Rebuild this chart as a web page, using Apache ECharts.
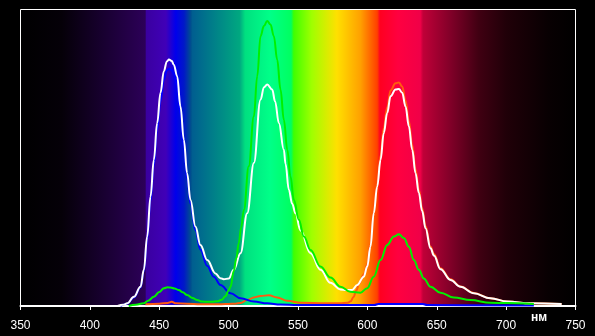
<!DOCTYPE html>
<html>
<head>
<meta charset="utf-8">
<script src="https://cdn.jsdelivr.net/npm/echarts@6/dist/echarts.min.js"></script>
<style>
html,body{margin:0;padding:0;background:#000;}
#chart{width:595px;height:336px;}
</style>
</head>
<body>
<div id="chart"></div>
<script>
// Wavelength axis ticks (nm)
const xTicks = [350, 400, 450, 500, 550, 600, 650, 700, 750];
const unitLabel = 'нм';

// Curves: [wavelength nm, relative intensity]
const whiteCurve = [[420,0.0],[424,0.004],[427,0.009],[431.7,0.031],[436.5,0.065],[438.9,0.122],[441.3,0.234],[443.7,0.369],[446.1,0.493],[448.5,0.617],[450.9,0.719],[453.3,0.792],[455.5,0.825],[457,0.831],[459,0.826],[460.5,0.814],[462.9,0.775],[465.3,0.673],[467.7,0.561],[470.1,0.448],[472.5,0.358],[476.1,0.268],[479.7,0.206],[484.6,0.155],[490.5,0.110],[494,0.094],[496.5,0.090],[500.1,0.093],[503.7,0.122],[508.6,0.178],[513.4,0.313],[518.2,0.482],[523,0.696],[525.5,0.738],[527.8,0.747],[531.4,0.730],[533.5,0.690],[536.2,0.617],[539.8,0.527],[541,0.480],[543.4,0.392],[545.8,0.345],[548.2,0.313],[551.8,0.255],[559,0.178],[566.2,0.122],[573.4,0.078],[580.6,0.056],[585,0.054],[589,0.054],[592.7,0.071],[597.4,0.099],[599.9,0.133],[602.2,0.200],[604.6,0.313],[607.1,0.403],[609.5,0.493],[611.8,0.583],[614.3,0.651],[616.7,0.707],[620.3,0.730],[622.7,0.732],[625.1,0.719],[627.5,0.673],[629.9,0.606],[632.3,0.527],[634.7,0.448],[637.1,0.381],[639.5,0.320],[641.9,0.262],[645.5,0.195],[648,0.170],[652.7,0.124],[659.9,0.088],[667.1,0.065],[676.7,0.043],[688.7,0.026],[700.8,0.015],[717.6,0.009],[740,0.007]];

const blueCurve = [[422,0.0],[427,0.008],[431.7,0.029],[436.5,0.062],[438.9,0.117],[441.3,0.224],[443.7,0.354],[446.1,0.473],[448.5,0.593],[450.9,0.690],[453.3,0.762],[455.5,0.795],[457,0.80],[459,0.795],[460.5,0.783],[462.9,0.745],[465.3,0.646],[467.7,0.538],[470.1,0.430],[472.5,0.344],[476.1,0.255],[479.7,0.190],[484.6,0.135],[489.3,0.099],[494.1,0.071],[501.4,0.043],[508.6,0.026],[518.2,0.015],[527.8,0.009],[537.4,0.005],[550,0.003],[605,0.003],[608,0.007],[640,0.007],[643,0.003],[720,0.002]];

const greenCurve = [[428,0.0],[433,0.004],[438.9,0.009],[442,0.018],[446.1,0.031],[450,0.047],[453.3,0.060],[456,0.063],[458.1,0.062],[461,0.059],[464.1,0.054],[467,0.046],[470.1,0.037],[474,0.027],[477.3,0.020],[481,0.015],[484.6,0.014],[488,0.014],[491.8,0.016],[495,0.021],[497.7,0.033],[500.1,0.054],[501.4,0.065],[503.7,0.118],[505.5,0.160],[507.3,0.212],[509,0.265],[511,0.324],[514.5,0.471],[518.2,0.640],[520.6,0.775],[523,0.910],[525.4,0.944],[527.8,0.961],[530.2,0.949],[532.6,0.910],[535,0.831],[537.4,0.730],[539.8,0.628],[542.3,0.527],[544.6,0.437],[547,0.358],[550.6,0.291],[554.2,0.234],[559,0.189],[566.2,0.133],[573.4,0.096],[580.6,0.065],[587.8,0.048],[595,0.045],[599.9,0.060],[604.6,0.099],[609.5,0.155],[614.3,0.206],[619.1,0.234],[622.7,0.242],[626.3,0.229],[629.9,0.200],[633.5,0.155],[637.1,0.122],[640.7,0.093],[645.5,0.065],[652.7,0.045],[662.3,0.029],[674.3,0.020],[688.7,0.011],[700.8,0.010],[720,0.007]];

const redCurve = [[440,0.006],[450,0.008],[456,0.010],[459,0.014],[462,0.009],[470,0.008],[480,0.006],[495,0.006],[500,0.007],[505,0.008],[508.6,0.010],[513.4,0.020],[518.2,0.029],[523,0.034],[529,0.036],[535,0.029],[542.2,0.018],[551.8,0.011],[570,0.009],[580,0.009],[586,0.011],[588,0.016],[590,0.030],[592,0.052],[594,0.075],[597.4,0.106],[599.9,0.140],[602.2,0.208],[604.6,0.323],[607.1,0.415],[609.5,0.508],[611.8,0.600],[614.3,0.670],[616.7,0.727],[620.3,0.751],[622.7,0.754],[625.1,0.740],[627.5,0.693],[629.9,0.624],[632.3,0.543],[634.7,0.461],[637.1,0.392],[639.5,0.330],[641.9,0.270],[645.5,0.200],[648,0.175],[652.7,0.127],[659.9,0.090],[667.1,0.066],[676.7,0.044],[688.7,0.026],[700.8,0.015],[717.6,0.009],[740,0.007]];

// Spectrum background colour stops: [wavelength nm, colour]
const spectrumStops = [[350,'#000000'],[380,'#050008'],[410,'#180030'],[440,'#2c0058'],[441,'#3a00a0'],[455,'#4000b8'],[462,'#0000ec'],[468,'#0018c8'],[473,'#00508c'],[474,'#005e90'],[508,'#00a880'],[512,'#00e080'],[530,'#00ff88'],[545,'#00ff60'],[547,'#40ff00'],[560,'#a0ff00'],[578,'#ffe000'],[595,'#ffa000'],[607,'#ff4000'],[609,'#ff0020'],[622,'#ff0040'],[638,'#f00048'],[640,'#c00038'],[660,'#800028'],[680,'#400012'],[700,'#200008'],[730,'#080002'],[750,'#000000']];

const xMin = 350, xMax = 750;
const bg = new echarts.graphic.LinearGradient(0, 0, 1, 0,
  spectrumStops.map(s => ({offset: (s[0] - xMin) / (xMax - xMin), color: s[1]})));

const chart = echarts.init(document.getElementById('chart'), null, {renderer: 'canvas'});
function mk(data, color, z) {
  return {
    type: 'line', data: data, showSymbol: false, symbol: 'none',
    smooth: 0.4, smoothMonotone: 'x', z: z,
    lineStyle: {color: color, width: 2}, animation: false
  };
}
chart.setOption({
  backgroundColor: '#000',
  animation: false,
  grid: {left: 20.5, right: 19.5, top: 9.5, bottom: 30, show: true,
    backgroundColor: bg, borderColor: '#fff', borderWidth: 1},
  xAxis: {
    type: 'value', min: xMin, max: xMax, interval: 50,
    axisLine: {show: true, lineStyle: {color: '#fff', width: 2}},
    axisTick: {show: true, length: 4, lineStyle: {color: '#fff', width: 1}},
    axisLabel: {color: '#fff', fontSize: 12, fontFamily: 'Liberation Sans, Arial, sans-serif', margin: 14,
      formatter: v => xTicks.includes(v) ? String(v) : ''},
    splitLine: {show: false}
  },
  yAxis: {type: 'value', min: 0, max: 1, show: false, splitLine: {show: false}},
  graphic: [{type: 'text', left: 531, top: 312,
    style: {text: unitLabel, fill: '#fff', font: 'bold 12px "Liberation Sans", Arial, sans-serif'}}],
  series: [
    mk(redCurve, '#ff5a10', 2),
    mk(blueCurve, '#0000ff', 3),
    mk(whiteCurve, '#ffffff', 4),
    mk(greenCurve, '#00f000', 5)
  ]
});
</script>
</body>
</html>
